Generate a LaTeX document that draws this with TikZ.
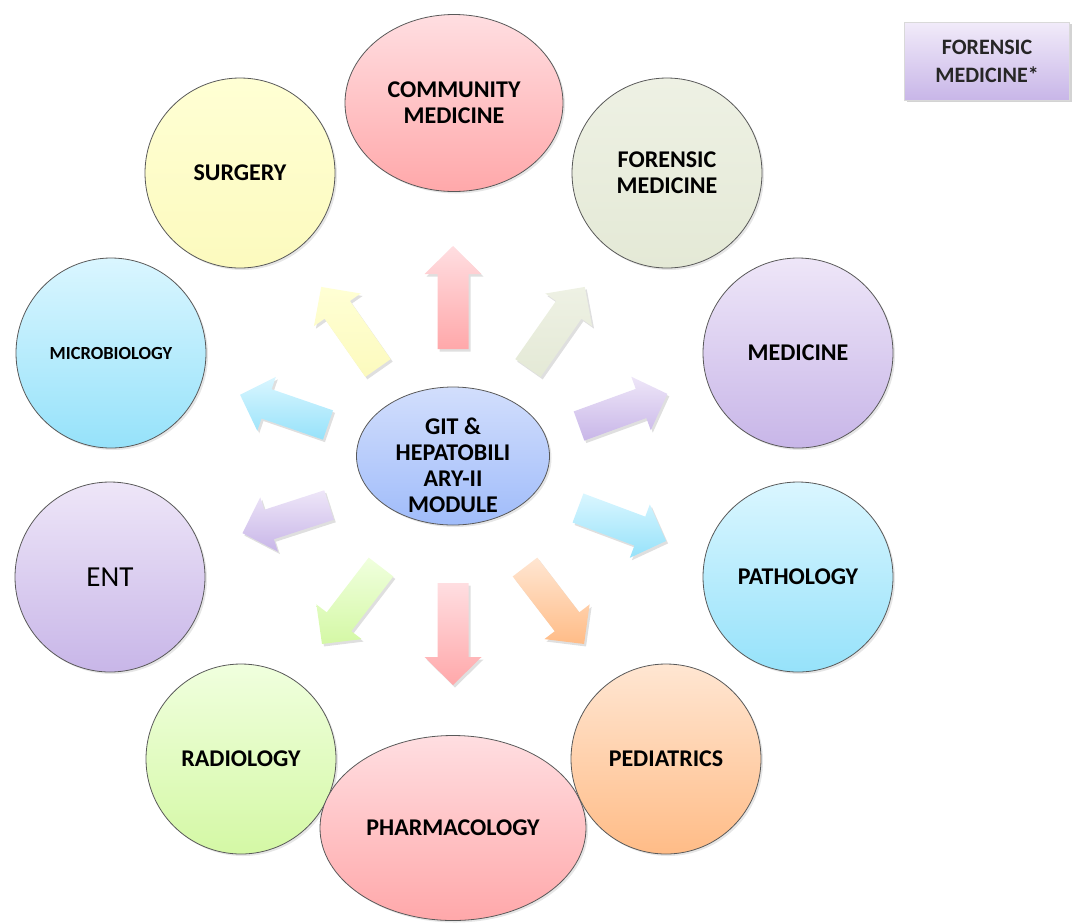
\documentclass[tikz,border=0pt]{standalone}
\usepackage{fontspec}
\setmainfont{Carlito}
\usetikzlibrary{shapes.geometric,shadows,calc}
\newcommand\lbl{\fontsize{24}{26}\selectfont\bfseries}
\newcommand\ap[3]{($(#1)+({-(#2)}:{#3})$)}
% #1 x, #2 y, #3 page angle, #4 length, #5 top colour, #6 bottom colour
\newcommand\barrow[6]{%
  \begin{scope}[shift={(#1,#2)}]
    \coordinate (s1) at ({90-(#3)}:15.5);
    \coordinate (s2) at ({90-(#3)}:-15.5);
    \coordinate (h1) at ({90-(#3)}:28.5);
    \coordinate (h2) at ({90-(#3)}:-28.5);
    \coordinate (o) at (0,0);
    \path[arrowbody,top color=#5,bottom color=#6]
      (s2) -- \ap{s2}{#3}{#4-28} -- \ap{h2}{#3}{#4-28} -- \ap{o}{#3}{#4}
      -- \ap{h1}{#3}{#4-28} -- \ap{s1}{#3}{#4-28} -- (s1) -- cycle;
  \end{scope}}
\tikzset{
  disc/.style={circle,draw=black!65,line width=0.8pt,minimum size=190pt,inner sep=0pt,align=center,font=\lbl,
    drop shadow={opacity=0.2,shadow xshift=2pt,shadow yshift=-2pt}},
  oval/.style={ellipse,draw=black!65,line width=0.8pt,inner sep=0pt,align=center,font=\lbl,
    drop shadow={opacity=0.2,shadow xshift=2pt,shadow yshift=-2pt}},
  arrowbody/.style={drop shadow={opacity=0.25,shadow xshift=2pt,shadow yshift=-2.5pt}},
}
\definecolor{pinkA}{RGB}{255,222,225}\definecolor{pinkB}{RGB}{255,168,170}
\definecolor{yelA}{RGB}{255,255,212}\definecolor{yelB}{RGB}{252,250,190}
\definecolor{greyA}{RGB}{238,241,228}\definecolor{greyB}{RGB}{228,233,214}
\definecolor{cyanA}{RGB}{218,246,255}\definecolor{cyanB}{RGB}{150,226,250}
\definecolor{lavA}{RGB}{238,230,248}\definecolor{lavB}{RGB}{200,182,232}
\definecolor{grnA}{RGB}{240,255,222}\definecolor{grnB}{RGB}{212,248,165}
\definecolor{orA}{RGB}{255,230,210}\definecolor{orB}{RGB}{255,188,135}
\definecolor{bluA}{RGB}{210,222,252}\definecolor{bluB}{RGB}{160,188,250}
\begin{document}
\begin{tikzpicture}[x=1pt,y=-1pt]
\useasboundingbox (0,0) rectangle (1073,922);
% circles
\node[oval,minimum width=218pt,minimum height=177pt,top color=pinkA,bottom color=pinkB] (comm) at (454,103) {COMMUNITY\\MEDICINE};
\node[disc,top color=yelA,bottom color=yelB] (surg) at (240,173) {SURGERY};
\node[disc,top color=greyA,bottom color=greyB] (fore) at (667,173) {FORENSIC\\MEDICINE};
\node[disc,top color=cyanA,bottom color=cyanB,font=\fontsize{18.5}{21}\selectfont\bfseries] (micro) at (111,353) {MICROBIOLOGY};
\node[disc,top color=lavA,bottom color=lavB] (med) at (798,353) {MEDICINE};
\node[disc,top color=lavA,bottom color=lavB,font=\fontsize{29}{32}\selectfont] (ent) at (110,577) {ENT};
\node[disc,top color=cyanA,bottom color=cyanB] (path) at (798,577) {PATHOLOGY};
\node[disc,top color=grnA,bottom color=grnB] (radio) at (241,759) {RADIOLOGY};
\node[disc,top color=orA,bottom color=orB] (ped) at (666,759) {PEDIATRICS};
\node[oval,minimum width=266pt,minimum height=185pt,top color=pinkA,bottom color=pinkB] (pharm) at (453,828) {PHARMACOLOGY};
\node[oval,minimum width=193pt,minimum height=138pt,top color=bluA,bottom color=bluB] (git) at (453,456) {};
\node[align=center,font=\lbl,inner sep=0pt] (gitlbl) at (453,465) {GIT \&\\HEPATOBILI\\ARY-II\\MODULE};
% arrows
\barrow{453}{349}{90}{103}{pinkA}{pinkB}
\barrow{528}{368}{55}{99}{greyA}{greyB}
\barrow{579}{426}{20}{94}{lavA}{lavB}
\barrow{578}{508}{-20.5}{94}{cyanA}{cyanB}
\barrow{525}{567}{-52.5}{97}{orA}{orB}
\barrow{453}{583}{-90}{102}{pinkA}{pinkB}
\barrow{381}{567}{-127.5}{97}{grnA}{grnB}
\barrow{329}{505}{-162}{91}{lavA}{lavB}
\barrow{328}{425}{161}{93}{cyanA}{cyanB}
\barrow{378}{368}{125}{99}{yelA}{yelB}
% legend box
\node[rectangle,minimum width=165pt,minimum height=78pt,inner sep=0pt,top color=lavA!80,bottom color=lavB,
  draw=white!85!black,align=center,font=\fontsize{22}{28}\selectfont\bfseries,text=black!85,
  drop shadow={opacity=0.35,shadow xshift=2pt,shadow yshift=-2pt}] (note) at (987,61) {FORENSIC\\MEDICINE*};
\end{tikzpicture}
\end{document}
